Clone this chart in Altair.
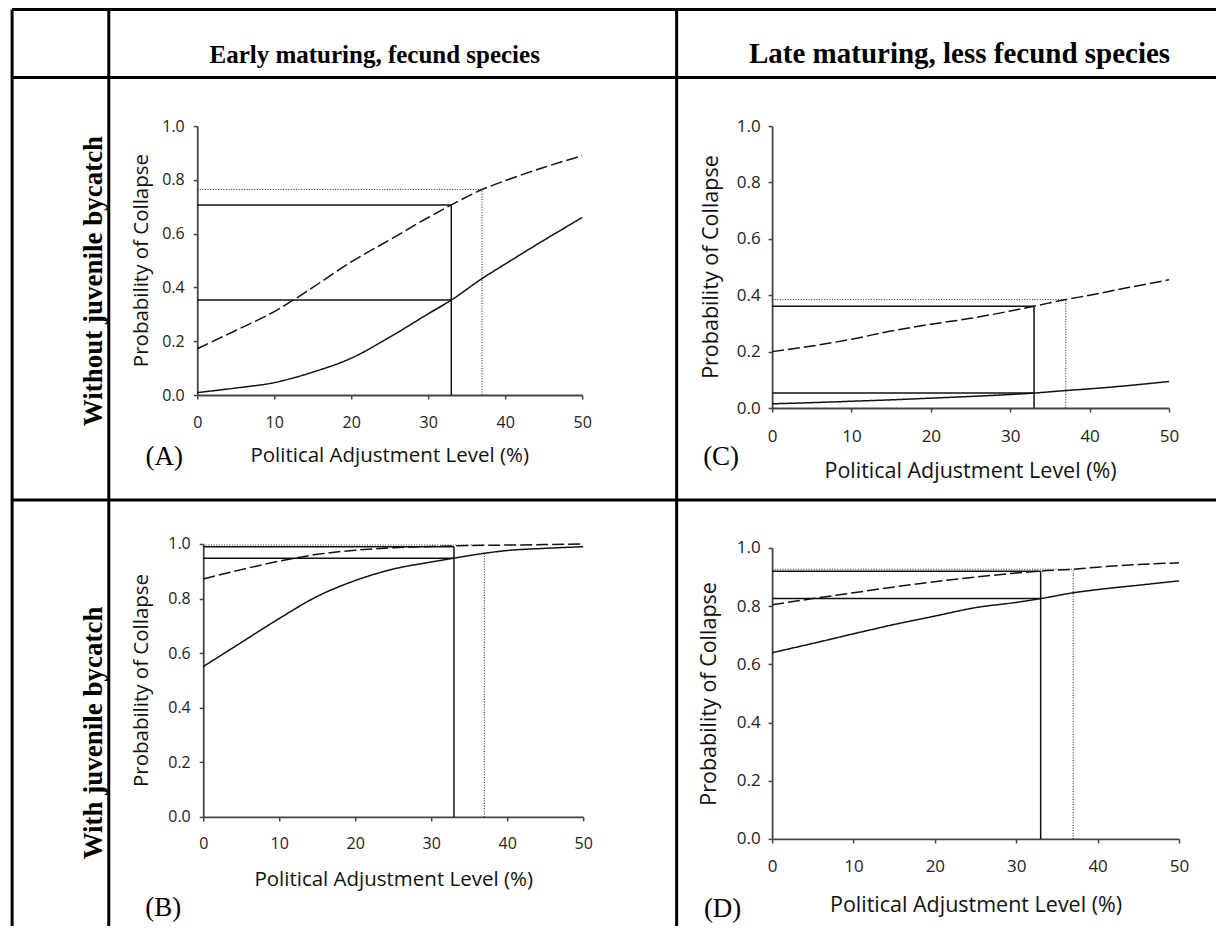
import altair as alt
import pandas as pd

# ---------------- data ----------------
X = [0, 5, 10, 15, 20, 25, 30, 33, 37, 40, 45, 50]

A_SOLID = [0.009, 0.026, 0.046, 0.085, 0.137, 0.215, 0.302, 0.353, 0.433, 0.487, 0.575, 0.66]
A_DASHED = [0.172, 0.24, 0.31, 0.40, 0.495, 0.577, 0.66, 0.707, 0.764, 0.797, 0.846, 0.89]

B_SOLID = [0.551, 0.639, 0.727, 0.808, 0.866, 0.908, 0.934, 0.948, 0.966, 0.976, 0.984, 0.99]
B_DASHED = [0.872, 0.906, 0.937, 0.962, 0.977, 0.986, 0.991, 0.993, 0.995, 0.996, 0.998, 1.0]

C_SOLID = [0.015, 0.019, 0.024, 0.029, 0.035, 0.041, 0.048, 0.053, 0.062, 0.068, 0.08, 0.094]
C_DASHED = [0.20, 0.22, 0.244, 0.273, 0.297, 0.318, 0.344, 0.361, 0.385, 0.40, 0.428, 0.455]

D_SOLID = [0.64, 0.672, 0.705, 0.737, 0.766, 0.795, 0.813, 0.826, 0.846, 0.857, 0.872, 0.887]
D_DASHED = [0.805, 0.826, 0.846, 0.866, 0.884, 0.90, 0.914, 0.921, 0.927, 0.934, 0.943, 0.949]

# guide x positions (solid guide, dotted guide)
GUIDE_X = [33, 37]
# guide levels: [lower solid, upper solid, dotted horizontal, top of dotted vertical]
A_GUIDES = [0.353, 0.707, 0.764, 0.764]
B_GUIDES = [0.948, 0.99, 0.996, 0.966]
C_GUIDES = [0.053, 0.361, 0.385, 0.385]
D_GUIDES = [0.826, 0.92, 0.927, 0.927]

X_TICKS = [0, 10, 20, 30, 40, 50]
Y_TICKS = [0.0, 0.2, 0.4, 0.6, 0.8, 1.0]
X_TITLE = "Political Adjustment Level (%)"
Y_TITLE = "Probability of Collapse"
HEADERS = ["Early maturing, fecund species", "Late maturing, less fecund species"]
ROW_LABELS = ["Without juvenile  bycatch", "With juvenile bycatch"]
LETTERS = ["(A)", "(B)", "(C)", "(D)"]

SANS = "Open Sans"
SERIF = "Liberation Serif"
ONE = pd.DataFrame({"k": [0]})


def panel(solid, dashed, guides, lab, tsize, dash, lpx, lpy, tx, ty, yx, yy):
    xaxis = alt.Axis(values=X_TICKS, title=X_TITLE, grid=False, labelFlush=False,
                     labelFont=SANS, labelFontSize=lab, labelColor="#222",
                     labelPadding=lpx, tickSize=4, tickColor="#444", tickWidth=1.5,
                     domainColor="#444", domainWidth=1.8,
                     titleFont=SANS, titleFontSize=tsize, titleFontWeight="normal",
                     titleColor="#111", titleX=tx, titleY=ty, titleAlign="center",
                     titleBaseline="middle")
    yaxis = alt.Axis(values=Y_TICKS, format=".1f", title=Y_TITLE, grid=False,
                     labelFont=SANS, labelFontSize=lab, labelColor="#222",
                     labelPadding=lpy, tickSize=4, tickColor="#444", tickWidth=1.5,
                     domainColor="#444", domainWidth=1.8, labelFlush=False,
                     titleFont=SANS, titleFontSize=tsize, titleFontWeight="normal",
                     titleColor="#111", titleX=yx, titleY=yy, titleAngle=270,
                     titleAlign="center", titleBaseline="middle")
    xs = alt.Scale(domain=[0, 50], nice=False, zero=False)
    ys = alt.Scale(domain=[0, 1], nice=False)

    curves = pd.DataFrame({
        "level": X + X,
        "prob": solid + dashed,
        "series": ["solid"] * len(X) + ["dashed"] * len(X),
    })
    lines = alt.Chart(curves).mark_line(color="#111", strokeWidth=1.5,
                                        interpolate="monotone").encode(
        x=alt.X("level:Q", scale=xs, axis=xaxis),
        y=alt.Y("prob:Q", scale=ys, axis=yaxis),
        strokeDash=alt.StrokeDash("series:N",
                                  scale=alt.Scale(domain=["solid", "dashed"],
                                                  range=[[1, 0], dash]),
                                  legend=None),
    )

    h_solid = pd.DataFrame({"x0": [0, 0], "x1": [GUIDE_X[0]] * 2,
                            "y": [guides[0], guides[1]]})
    v_solid = pd.DataFrame({"x": [GUIDE_X[0]], "y0": [0], "y1": [guides[1]]})
    h_dot = pd.DataFrame({"x0": [0], "x1": [GUIDE_X[1]], "y": [guides[2]]})
    v_dot = pd.DataFrame({"x": [GUIDE_X[1]], "y0": [0], "y1": [guides[3]]})

    hs = alt.Chart(h_solid).mark_rule(color="#111", strokeWidth=1.5).encode(
        x=alt.X("x0:Q", scale=xs, axis=xaxis), x2="x1:Q",
        y=alt.Y("y:Q", scale=ys, axis=yaxis))
    vs = alt.Chart(v_solid).mark_rule(color="#111", strokeWidth=1.5).encode(
        x=alt.X("x:Q", scale=xs, axis=xaxis),
        y=alt.Y("y0:Q", scale=ys, axis=yaxis), y2="y1:Q")
    hd = alt.Chart(h_dot).mark_rule(color="#333", strokeWidth=1.1,
                                    strokeDash=[1, 1.6]).encode(
        x=alt.X("x0:Q", scale=xs, axis=xaxis), x2="x1:Q",
        y=alt.Y("y:Q", scale=ys, axis=yaxis))
    vd = alt.Chart(v_dot).mark_rule(color="#333", strokeWidth=1.1,
                                    strokeDash=[1, 1.6]).encode(
        x=alt.X("x:Q", scale=xs, axis=xaxis),
        y=alt.Y("y0:Q", scale=ys, axis=yaxis), y2="y1:Q")
    return [hd, vd, hs, vs, lines]


# ---------------- table frame & labels (pixel offsets relative to panel A view) ----
LEFT, TOP, RIGHT, BOTTOM = -185.2, -116.5, 1019, 800
frame = []
for yv in [TOP, -48.5, 374]:
    frame.append(alt.Chart(ONE).mark_rule(color="black", strokeWidth=3).encode(
        x=alt.value(LEFT), x2=alt.value(RIGHT), y=alt.value(yv)))
for xv in [LEFT, -88.5, 479.5]:
    frame.append(alt.Chart(ONE).mark_rule(color="black", strokeWidth=3).encode(
        x=alt.value(xv), y=alt.value(TOP), y2=alt.value(BOTTOM)))

texts = []
for lab, xv, fs in zip(HEADERS, [177.5, 762.5], [25, 29]):
    texts.append(alt.Chart(ONE).mark_text(text=lab, font=SERIF, fontSize=fs,
                                          fontWeight="bold", align="center",
                                          baseline="alphabetic", color="black").encode(
        x=alt.value(xv), y=alt.value(-62.7)))
for lab, yv in zip(ROW_LABELS, [155, 607]):
    texts.append(alt.Chart(ONE).mark_text(text=lab, font=SERIF, fontSize=27,
                                          fontWeight="bold", align="center",
                                          baseline="middle", angle=270,
                                          color="black").encode(
        x=alt.value(-103.4), y=alt.value(yv)))
for lab, xv, yv in zip(LETTERS, [-33, -34, 524, 525.5], [339.3, 790, 339.3, 791]):
    texts.append(alt.Chart(ONE).mark_text(text=lab, font=SERIF, fontSize=27,
                                          align="center", baseline="alphabetic",
                                          color="black").encode(
        x=alt.value(xv), y=alt.value(yv)))

pa = panel(A_SOLID, A_DASHED, A_GUIDES, 16, 20.5, [12, 4], 15, 9, 192, 60.5, -56, 134)
pb = panel(B_SOLID, B_DASHED, B_GUIDES, 16, 20.5, [12, 4], 15, 9, 190, 63, -62, 136)
pc = panel(C_SOLID, C_DASHED, C_GUIDES, 17, 21.5, [13, 6], 16, 8, 198, 64, -61, 140.5)
pd_ = panel(D_SOLID, D_DASHED, D_GUIDES, 17, 21.5, [14, 6], 16, 8, 203.5, 66.5, -63, 145.5)

A = alt.layer(*frame, *texts, *pa).properties(width=385, height=269)
B = alt.layer(*pb).properties(width=380, height=273)
C = alt.layer(*pc).properties(width=397, height=282)
D = alt.layer(*pd_).properties(width=407, height=291)

spacer = alt.Chart(ONE).mark_point(opacity=0).encode(
    x=alt.value(0), y=alt.value(0)).properties(width=1, height=1)

col1 = alt.vconcat(A, alt.hconcat(spacer, B, spacing=5, bounds="flush"),
                   spacing=149, bounds="flush")
col2 = alt.vconcat(C, D, spacing=140, bounds="flush")
# nested concat groups have no own width in a flush layout, so the spacing
# is the full offset of the second column
chart = alt.hconcat(col1, col2, spacing=575, bounds="flush").properties(
    padding={"left": 2.3, "top": 0, "right": 0, "bottom": 0},
    background="white",
).configure_view(strokeWidth=0)

chart.save("out.html", embed_options={"renderer": "svg", "actions": False})
